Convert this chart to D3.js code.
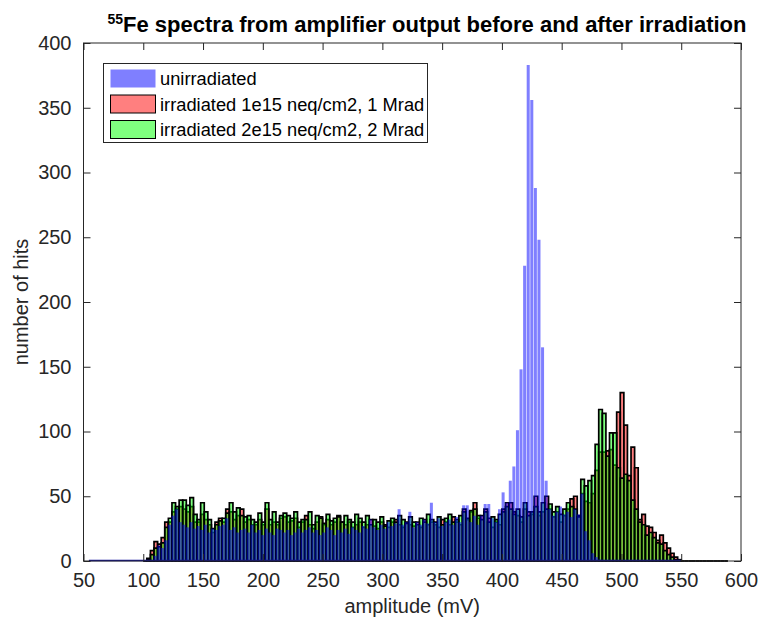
<!DOCTYPE html>
<html><head><meta charset="utf-8">
<script src="https://cdn.jsdelivr.net/npm/d3@7"></script>
<style>
html,body{margin:0;padding:0;background:#fff;}
svg{display:block;font-family:"Liberation Sans",Arial,Helvetica,sans-serif;}
</style></head>
<body><svg id="chart" width="758" height="624"></svg>
<script>
// ---- data ----
const binWidth = 3; // mV
// unirradiated: bin centres start at 56 mV, step 3 mV
const blueStart = 56;
const blueCounts = [
 0,0,0,0,0,0,0,0,0,0,0,0,0,0,0,0,0,0,
 4,12,10,16,28,35,40,30,28,26,
 30,25,27,24,28,22,25,24,27,28,
 33,24,26,22,24,25,22,28,22,24,
 20,25,22,20,25,24,22,24,20,22,
 25,22,24,26,22,24,20,22,26,24,
 20,24,22,25,21,26,24,22,27,25,
 32,26,24,28,25,30,27,29,40,28,
 30,38,26,30,28,32,29,45,30,33,
 27,30,32,28,34,30,43,43,30,35,
 28,35,44,44,33,30,40,53,45,62,
 73,101,148,228,383,356,288,248,165,62,
 40,35,38,42,36,38,34,40,36,52,
 23,16,6,3,1,0,0,0,0,0,
 0,0,0,0,0,0,0,0,0,0,
 0,0,0,0,0,0,0
];
// irradiated series: bin centres start at 101.5 mV, step 3 mV
const irrStart = 101.5;
const redCounts = [
 0,2,8,15,13,18,30,30,38,40,
 42,40,38,42,30,30,36,32,28,22,
 30,33,30,40,38,32,35,40,30,32,
 28,28,32,28,40,28,30,28,33,34,
 30,31,33,26,30,35,28,25,30,34,
 28,32,28,30,35,30,28,30,26,28,
 30,26,28,32,27,25,30,28,26,30,
 32,28,26,30,28,27,30,26,32,28,
 30,28,26,32,30,28,34,30,28,40,
 32,38,45,33,35,40,33,26,30,28,
 40,45,45,38,35,30,40,38,36,50,
 35,38,50,40,34,38,30,35,40,48,
 50,35,52,46,45,52,70,84,84,85,
 86,74,115,130,105,66,88,72,32,36,
 27,26,22,16,20,14,10,6,3,1,
 0,0,0,0,0,0,0,0,0,0,
 0,0,0
];
const greenCounts = [
 0,1,5,10,11,14,26,33,45,42,
 47,47,43,49,36,32,45,38,32,25,
 28,31,33,37,45,38,41,35,34,35,
 32,30,37,30,45,32,38,30,35,37,
 35,33,38,30,32,32,38,28,35,33,
 29,36,31,33,34,30,35,32,30,36,
 33,30,35,28,32,30,34,27,31,33,
 30,35,32,29,34,30,28,33,30,36,
 32,30,34,28,33,36,30,32,35,38,
 33,39,40,35,32,38,30,34,32,36,
 38,42,40,36,40,34,45,35,38,42,
 38,45,40,44,38,42,36,40,45,42,
 40,34,63,58,62,66,90,117,114,81,
 99,99,72,64,67,62,47,40,30,28,
 20,22,18,14,13,8,5,3,1,0,
 0,0,0,0,0,0,0,0,0,0,
 0,0,0
];
const seriesNames = ["unirradiated","irradiated 1e15 neq/cm2, 1 Mrad","irradiated 2e15 neq/cm2, 2 Mrad"];
const xTicks = [50,100,150,200,250,300,350,400,450,500,550,600];
const yTicks = [0,50,100,150,200,250,300,350,400];

// ---- layout ----
const svg = d3.select("#chart");
const L = 83.5, R = 741, T = 43, B = 561;
const x = d3.scaleLinear().domain([50,600]).range([L,R]);
const y = d3.scaleLinear().domain([0,400]).range([B,T]);
const axisColor = "#262626";

const toBins = (start, counts) => counts.map((v,i)=>({c:start+i*binWidth, v}));
const blue = toBins(blueStart, blueCounts);
const red = toBins(irrStart, redCounts);
const green = toBins(irrStart, greenCounts);

function barPath(d, frac){
  const h = binWidth*frac/2;
  const x0 = x(d.c-h), x1 = x(d.c+h), y0 = y(0), y1 = y(d.v);
  return `M${x0},${y0}V${y1}H${x1}V${y0}Z`;
}

const gData = svg.append("g");
// red
gData.append("g").selectAll("path").data(red).join("path")
  .attr("d", d=>barPath(d,1))
  .attr("fill","rgb(255,0,0)").attr("fill-opacity",0.5)
  .attr("stroke","#000").attr("stroke-width",1.7);
// green
gData.append("g").selectAll("path").data(green).join("path")
  .attr("d", d=>barPath(d,1))
  .attr("fill","rgb(0,255,0)").attr("fill-opacity",0.5)
  .attr("stroke","#000").attr("stroke-width",1.7);
// blue (on top)
gData.append("g").selectAll("path").data(blue.filter(d=>d.v>0)).join("path")
  .attr("d", d=>barPath(d,0.84))
  .attr("fill","rgb(0,0,255)").attr("fill-opacity",0.5)
  .attr("stroke","none");
// blue zero-count baseline
const bExt = d3.extent(blue, d=>d.c);
gData.append("line")
  .attr("x1", x(bExt[0]-binWidth/2)).attr("x2", x(bExt[1]+binWidth/2))
  .attr("y1", y(0)-0.5).attr("y2", y(0)-0.5)
  .attr("stroke","#1010a0").attr("stroke-width",1.5);

// ---- axes ----
const tickLen = 7;
const fs = 20;
const xAxisB = d3.axisBottom(x).tickValues(xTicks).tickSizeInner(-tickLen).tickSizeOuter(0).tickPadding(12);
const xAxisT = d3.axisTop(x).tickValues(xTicks).tickSizeInner(-tickLen).tickSizeOuter(0).tickFormat("");
const yAxisL = d3.axisLeft(y).tickValues(yTicks).tickSizeInner(-tickLen).tickSizeOuter(0).tickPadding(12);
const yAxisR = d3.axisRight(y).tickValues(yTicks).tickSizeInner(-tickLen).tickSizeOuter(0).tickFormat("");

function styleAxis(g){
  g.selectAll(".domain").remove();
  g.selectAll("line").attr("stroke",axisColor).attr("stroke-width",1);
  g.selectAll("text").attr("fill",axisColor).attr("font-size",fs).attr("font-family","Liberation Sans, Arial, sans-serif");
}
svg.append("g").attr("transform",`translate(0,${B})`).call(xAxisB).call(styleAxis);
svg.append("g").attr("transform",`translate(0,${T})`).call(xAxisT).call(styleAxis);
svg.append("g").attr("transform",`translate(${L},0)`).call(yAxisL).call(styleAxis);
svg.append("g").attr("transform",`translate(${R},0)`).call(yAxisR).call(styleAxis);
svg.append("rect").attr("x",L).attr("y",T).attr("width",R-L).attr("height",B-T)
  .attr("fill","none").attr("stroke",axisColor).attr("stroke-width",1);

// axis labels
svg.append("text").attr("x",(L+R)/2).attr("y",613).attr("text-anchor","middle")
  .attr("font-size",20).attr("fill",axisColor).text("amplitude (mV)");
svg.append("text").attr("transform",`translate(28,${(T+B)/2}) rotate(-90)`).attr("text-anchor","middle")
  .attr("font-size",20).attr("fill",axisColor).text("number of hits");

// title
const title = svg.append("text").attr("x",427).attr("y",32).attr("text-anchor","middle")
  .attr("font-size",22).attr("font-weight","bold").attr("fill","#000");
title.append("tspan").attr("font-size",14).attr("dy",-8).text("55");
title.append("tspan").attr("dy",8).text("Fe spectra from amplifier output before and after irradiation");

// legend
const lg = svg.append("g");
lg.append("rect").attr("x",103.5).attr("y",63.5).attr("width",324).attr("height",79)
  .attr("fill","#fff").attr("stroke",axisColor).attr("stroke-width",1);
const legendItems = [
  {name:seriesNames[0], fill:"rgb(0,0,255)", stroke:"none"},
  {name:seriesNames[1], fill:"rgb(255,0,0)", stroke:"#000"},
  {name:seriesNames[2], fill:"rgb(0,255,0)", stroke:"#000"}
];
legendItems.forEach((it,i)=>{
  const cy = 78.5 + i*25.5;
  lg.append("rect").attr("x",110.5).attr("y",cy-9).attr("width",45).attr("height",18)
    .attr("fill",it.fill).attr("fill-opacity",0.5).attr("stroke",it.stroke).attr("stroke-width",1);
  lg.append("text").attr("x",160).attr("y",cy+6.5).attr("font-size",18.3).attr("fill","#000").text(it.name);
});
</script></body></html>
